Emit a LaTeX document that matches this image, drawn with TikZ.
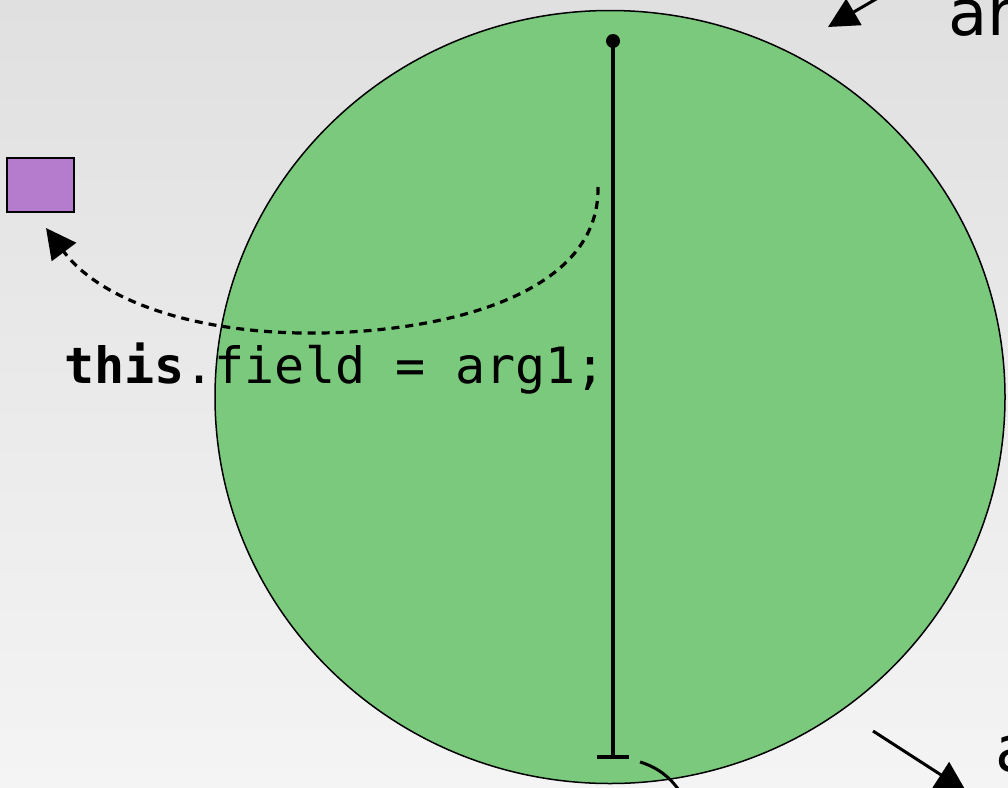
\documentclass[tikz,border=0pt]{standalone}
\usepackage{fontspec}
\setmainfont{DejaVu Sans}
\setmonofont{DejaVu Sans Mono}
\usetikzlibrary{shapes.geometric,arrows.meta}
\definecolor{cellgreen}{RGB}{122,201,124}
\definecolor{boxpurple}{RGB}{181,123,204}
\definecolor{bgtop}{RGB}{224,224,224}
\definecolor{bgbot}{RGB}{244,244,244}
\tikzset{
  thick line/.style={line width=3.2pt},
  big arrow/.style={line width=3pt,-{Triangle[length=30pt,width=30pt]}},
  dashline/.style={line width=3.2pt,dash pattern=on 8pt off 6pt},
  bigtext/.style={font=\fontsize{64}{70}\selectfont,inner sep=0pt,anchor=base west},
  codetext/.style={font=\ttfamily\fontsize{50}{56}\selectfont,inner sep=0pt,anchor=base west},
}
\begin{document}
\begin{tikzpicture}[x=1pt,y=-1pt]
\useasboundingbox (0,0) rectangle (1008,787);
\shade[top color=bgtop,bottom color=bgbot] (0,0) rectangle (1008,787);
% cell
\node[ellipse,draw=black,line width=1.5pt,fill=cellgreen,minimum width=790pt,minimum height=773pt,inner sep=0pt] (cell) at (610,397) {};
% purple box
\node[draw=black,line width=1.5pt,fill=boxpurple,minimum width=67pt,minimum height=54pt,inner sep=0pt] (box) at (40.5,185) {};
% code text
\node[codetext] (code) at (64,383) {\textbf{this}.field = arg1;};
% vertical line with dot and T end
\coordinate (top) at (613,41);
\coordinate (bot) at (613,757);
\fill (top) circle (7pt);
\draw[thick line] (top) -- (bot);
\coordinate (tl) at (597,757);
\coordinate (tr) at (629,757);
\draw[thick line] (tl) -- (tr);
% dashed curve to box
\coordinate (ds) at (598,187);
\coordinate (dm) at (300,333);
\coordinate (de) at (46,228);
\draw[dashline] (ds) .. controls (600,300) and (430,335) .. (dm);
\draw[dashline,-{Triangle[length=30pt,width=30pt]}] (dm) .. controls (190,331) and (100,300) .. (de);
% outgoing curve at bottom
\coordinate (cs) at (640,762);
\coordinate (ce) at (682,795);
\draw[line width=3pt] (cs) .. controls (660,768) and (673,780) .. (ce);
% top right arrow and text
\coordinate (a1s) at (895,-12);
\coordinate (a1e) at (828,27);
\draw[big arrow] (a1s) -- (a1e);
\node[bigtext] (t1) at (948,35) {ar};
% bottom right arrow and text
\coordinate (a2s) at (873,731);
\coordinate (a2e) at (966,791);
\draw[big arrow] (a2s) -- (a2e);
\node[bigtext] (t2) at (995,771) {a};
\end{tikzpicture}
\end{document}
